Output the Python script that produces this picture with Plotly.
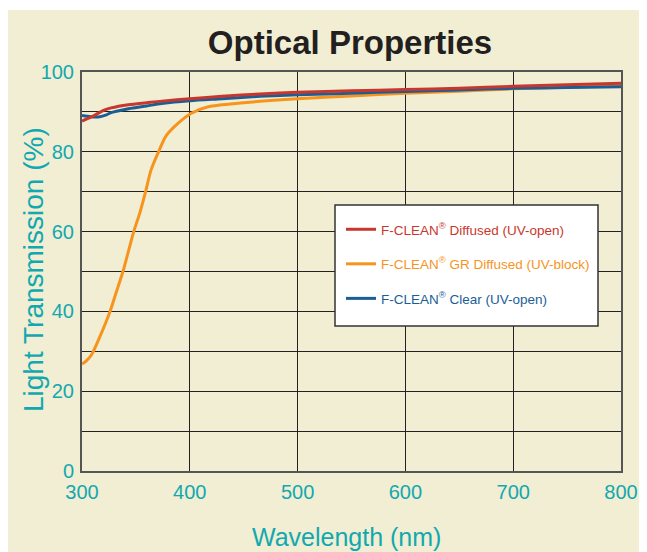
import plotly.graph_objects as go

# ---- data ----
red_wl = [300, 305, 312, 320, 327, 343, 360, 374, 400, 430, 465, 500, 550, 600, 650, 700, 750, 800]
red_val = [87.7, 88.3, 89.2, 90.4, 91.0, 91.8, 92.3, 92.7, 93.3, 93.9, 94.5, 94.9, 95.3, 95.6, 95.95, 96.4, 96.8, 97.2]

blue_wl = [300, 308, 315, 322, 327, 343, 360, 374, 400, 430, 465, 500, 550, 600, 650, 700, 750, 800]
blue_val = [89.1, 88.8, 88.75, 89.2, 89.8, 90.8, 91.5, 92.1, 92.8, 93.3, 93.9, 94.3, 94.7, 95.1, 95.5, 95.9, 96.1, 96.3]

orange_wl = [300, 304, 309, 316, 326, 332, 338, 343, 348, 354, 359, 364, 371, 378, 389, 401, 417, 450,
             500, 550, 600, 650, 700, 750, 800]
orange_val = [26.8, 27.6, 29.2, 33.3, 40, 45, 50, 55, 60, 65, 70, 75.4, 80, 84, 87.1, 89.6, 91.3, 92.3,
              93.3, 94.0, 94.7, 95.2, 95.8, 96.2, 96.6]

series_names = ["F-CLEAN<sup>®</sup> Diffused (UV-open)",
                "F-CLEAN<sup>®</sup> GR Diffused (UV-block)",
                "F-CLEAN<sup>®</sup> Clear (UV-open)"]
series_colors = ["#C8372D", "#F7941D", "#1B5E96"]

x_ticks = [300, 400, 500, 600, 700, 800]
y_ticks = [0, 20, 40, 60, 80, 100]

TEAL = "#12A8B0"
BEIGE = "#F1EED3"
FONT = "Liberation Sans, Arial, sans-serif"

# page body adds an 8px offset; figure coords = screenshot coords - 8
OFF = 8
W, H = 647 - OFF, 552 - OFF
L, T = 82 - OFF, 72 - OFF
R = W - (621 - OFF)
B = H - (471 - OFF)
PW, PH = W - L - R, H - T - B


def px(sx):  # screenshot x -> paper x
    return (sx - 82) / PW


def py(sy):  # screenshot y -> paper y
    return (471 - sy) / PH


fig = go.Figure()
data = [(red_wl, red_val), (orange_wl, orange_val), (blue_wl, blue_val)]
traces = []
for i, ((xs, ys), name, col) in enumerate(zip(data, series_names, series_colors)):
    traces.append(go.Scatter(
        x=xs, y=ys, mode="lines",
        line=dict(color=col, width=3, shape="spline", smoothing=0.8),
        name=f'<span style="color:{col}">{name}</span>',
        legendgroup=f"g{i}", legendrank=i + 1,
    ))
# draw order: orange, blue, then red on top
for idx in (1, 2, 0):
    fig.add_trace(traces[idx])

fig.update_layout(
    width=W, height=H,
    margin=dict(l=L, r=R, t=T, b=B, autoexpand=False),
    paper_bgcolor="white",
    plot_bgcolor="white",
    title=dict(text="<b>Optical Properties</b>", xref="container", yref="container",
               x=(350 - OFF) / W, xanchor="center", y=1 - (42 - OFF) / H, yanchor="middle",
               font=dict(family=FONT, size=33, color="#231F20")),
    legend=dict(
        x=px(341), y=py(214), xanchor="left", yanchor="top",
        bgcolor="rgba(0,0,0,0)", borderwidth=0,
        font=dict(family=FONT, size=13.5),
        tracegroupgap=14,
        traceorder="grouped",
    ),
    showlegend=True,
    shapes=[
        dict(type="rect", xref="paper", yref="paper",
             x0=-(L + 2) / PW, x1=(W - L + 2) / PW,
             y0=-(B + 2) / PH, y1=(H - B - 2) / PH,
             fillcolor=BEIGE, line=dict(width=0), layer="below"),
        dict(type="rect", xref="paper", yref="paper",
             x0=px(335), x1=px(598), y0=py(326), y1=py(205),
             fillcolor="white", line=dict(color="#333333", width=1.5), layer="above"),
    ],
    annotations=[
        dict(text="Light Transmission (%)", xref="paper", yref="paper",
             x=px(33), y=py(270), xanchor="center", yanchor="middle", textangle=-90,
             showarrow=False, font=dict(family=FONT, size=28, color=TEAL)),
        dict(text="Wavelength (nm)", xref="paper", yref="paper",
             x=px(346), y=py(537), xanchor="center", yanchor="middle",
             showarrow=False, font=dict(family=FONT, size=25, color=TEAL)),
    ],
)

fig.update_xaxes(
    range=[300, 800], tickvals=x_ticks, ticktext=[str(v) for v in x_ticks],
    showgrid=True, gridcolor="#222222", gridwidth=1.3,
    showline=True, mirror=True, linecolor="#555555", linewidth=2,
    ticks="outside", ticklen=2, tickcolor="rgba(0,0,0,0)",
    tickfont=dict(family=FONT, size=20, color=TEAL),
    zeroline=False, automargin=False,
)
fig.update_yaxes(
    range=[0, 100], tickvals=y_ticks, ticktext=[str(v) for v in y_ticks],
    showgrid=True, gridcolor="#222222", gridwidth=1.3,
    minor=dict(dtick=10, tick0=0, showgrid=True, gridcolor="#222222", gridwidth=1.3),
    showline=True, mirror=True, linecolor="#555555", linewidth=2,
    ticks="outside", ticklen=2, tickcolor="rgba(0,0,0,0)",
    tickfont=dict(family=FONT, size=20, color=TEAL),
    zeroline=False, automargin=False,
)

fig.write_html("out.html")
